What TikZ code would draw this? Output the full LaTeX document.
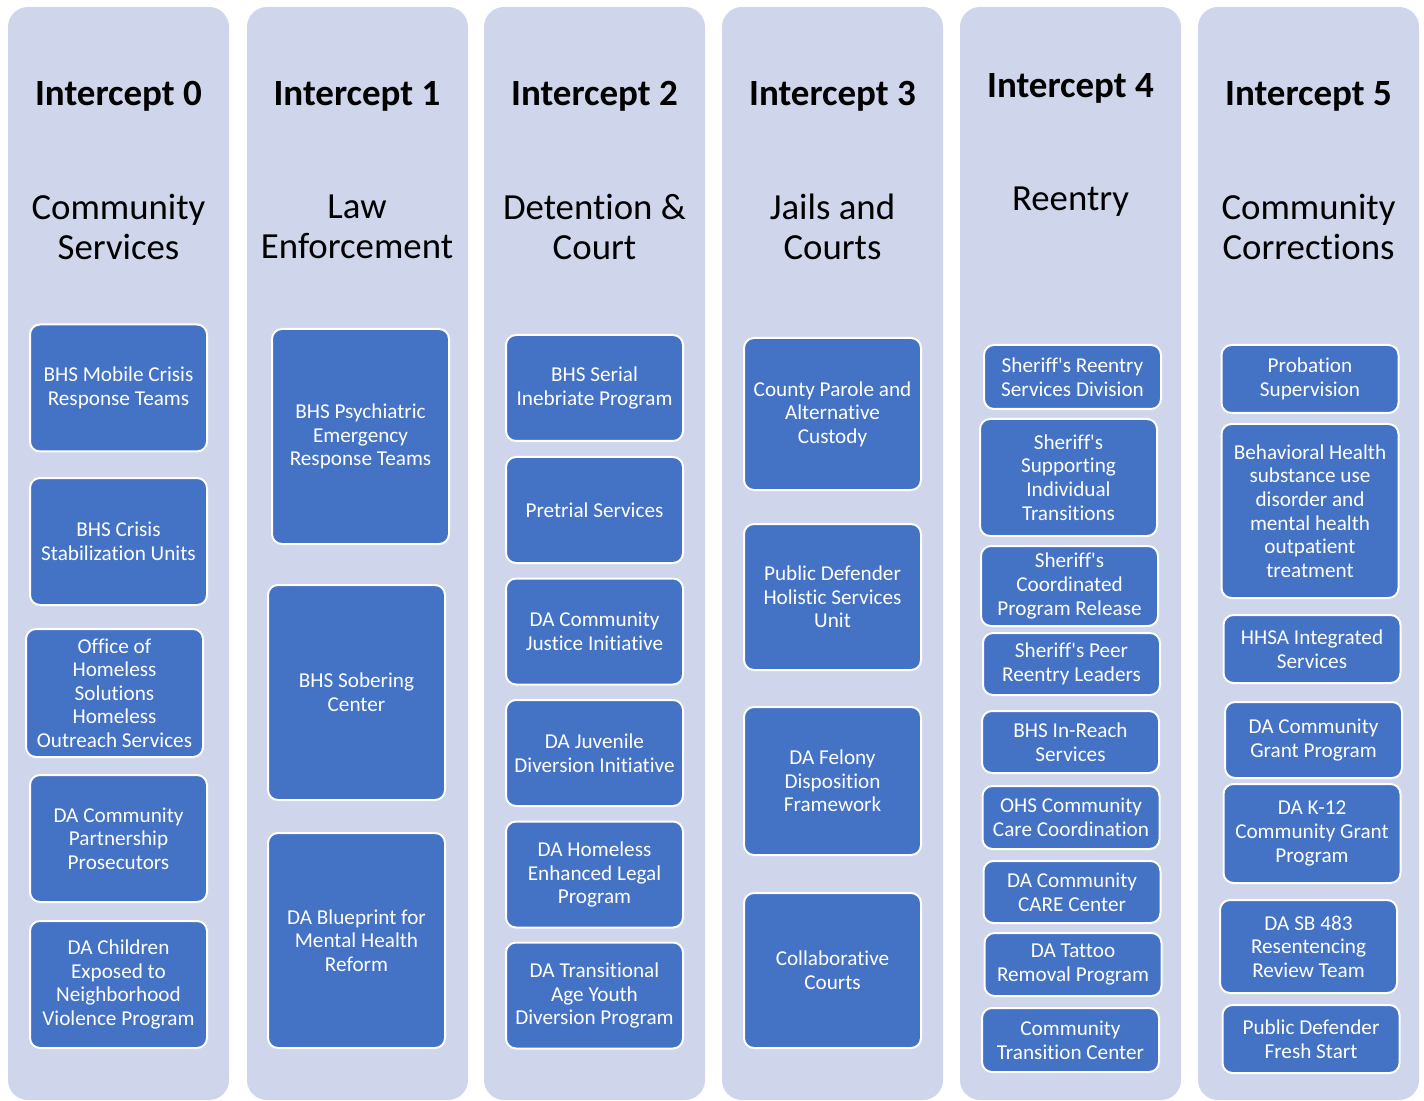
\documentclass[tikz,border=0pt]{standalone}
\usepackage{fontspec}
\setmainfont{Carlito}[Ligatures=NoCommon]
\definecolor{lavender}{HTML}{CFD5EA}
\definecolor{boxblue}{HTML}{4472C4}
\newcommand{\sq}{\textquotesingle}

\begin{document}
\begin{tikzpicture}[
  x=0.5pt, y=-0.5pt,
  column/.style={fill=lavender, rounded corners=10pt},
  title/.style={font=\bfseries\fontsize{18.5}{22}\selectfont},
  phase/.style={align=center, font=\fontsize{18.4}{20}\selectfont},
  prog/.style={rectangle, rounded corners=5pt, draw=white, line width=1pt,
    fill=boxblue, text=white, align=center, inner sep=2pt,
    minimum width=88.5pt, font=\fontsize{10.6}{11.8}\selectfont}
  ]
\useasboundingbox (0,0) rectangle (1424,1101);
\foreach \x in {8,247,484,722,960,1198}
  \fill[column] (\x,7) rectangle +(221,1093);
\foreach \n/\cx/\ty in {0/118.5/96, 1/357/96, 2/594.5/96, 3/832.5/96, 4/1070.5/88, 5/1308.5/96}
  \node[title] (t\n) at (\cx,\ty) {Intercept \n};
\foreach \n/\cx/\sy/\txt in {0/118.5/227/{Community\\Services},
    1/357/227/{Law\\Enforcement},
    2/594.5/227/{Detention \&\\Court},
    3/832.5/227/{Jails and\\Courts},
    4/1070.5/202/{Reentry},
    5/1308.5/227/{Community\\Corrections}}
  \node[phase] (s\n) at (\cx,\sy) {\txt};

\node[prog, minimum height=63.5pt] (mcrisis) at (118.5,388)
  {BHS Mobile Crisis\\Response Teams};
\node[prog, minimum height=63.5pt] (crisisunits) at (118.5,541.5)
  {BHS Crisis\\Stabilization Units};
\node[prog, minimum height=64pt] (homeless) at (114.5,693)
  {Office of\\Homeless\\Solutions\\Homeless\\Outreach Services};
\node[prog, minimum height=63.5pt] (partnership) at (118.5,838.5)
  {DA Community\\Partnership\\Prosecutors};
\node[prog, minimum height=63.5pt] (children) at (118.5,984.5)
  {DA Children\\Exposed to\\Neighborhood\\Violence Program};

\node[prog, minimum height=107.5pt] (pert) at (360.5,436.5)
  {BHS Psychiatric\\Emergency\\Response Teams};
\node[prog, minimum height=107.5pt] (sobering) at (356.5,692.5)
  {BHS Sobering\\Center};
\node[prog, minimum height=107.5pt] (blueprint) at (356.5,940.5)
  {DA Blueprint for\\Mental Health\\Reform};

\node[prog, minimum height=53pt] (inebriate) at (594.5,388)
  {BHS Serial\\Inebriate Program};
\node[prog, minimum height=53pt] (pretrial) at (594.5,510)
  {Pretrial Services};
\node[prog, minimum height=53pt] (justice) at (594.5,631.5)
  {DA Community\\Justice Initiative};
\node[prog, minimum height=53pt] (juvenile) at (594.5,753)
  {DA Juvenile\\Diversion Initiative};
\node[prog, minimum height=53pt] (legal) at (594.5,874.5)
  {DA Homeless\\Enhanced Legal\\Program};
\node[prog, minimum height=53pt] (tay) at (594.5,995.5)
  {DA Transitional\\Age Youth\\Diversion Program};

\node[prog, minimum height=76pt] (parole) at (832.5,414)
  {County Parole and\\Alternative\\Custody};
\node[prog, minimum height=73pt] (holistic) at (832.5,597)
  {Public Defender\\Holistic Services\\Unit};
\node[prog, minimum height=74pt] (felony) at (832.5,781)
  {DA Felony\\Disposition\\Framework};
\node[prog, minimum height=77.5pt] (collab) at (832.5,970.5)
  {Collaborative\\Courts};

\node[prog, minimum height=32pt] (reentry) at (1072.5,377)
  {Sheriff\sq s Reentry\\Services Division};
\node[prog, minimum height=58.5pt] (sit) at (1068.5,477.5)
  {Sheriff\sq s\\Supporting\\Individual\\Transitions};
\node[prog, minimum height=40pt] (release) at (1069.5,586)
  {Sheriff\sq s\\Coordinated\\Program Release};
\node[prog, minimum height=31pt] (peer) at (1071.5,664)
  {Sheriff\sq s Peer\\Reentry Leaders};
\node[prog, minimum height=31pt] (inreach) at (1070.5,742)
  {BHS In-Reach\\Services};
\node[prog, minimum height=31.5pt] (careco) at (1071,817.5)
  {OHS Community\\Care Coordination};
\node[prog, minimum height=31pt] (carecenter) at (1072,892)
  {DA Community\\CARE Center};
\node[prog, minimum height=31.5pt] (tattoo) at (1073,964.5)
  {DA Tattoo\\Removal Program};
\node[prog, minimum height=32pt] (transition) at (1070.5,1040)
  {Community\\Transition Center};

\node[prog, minimum height=34pt] (probation) at (1310,379)
  {Probation\\Supervision};
\node[prog, minimum height=87pt] (bhtreat) at (1310,511)
  {Behavioral Health\\substance use\\disorder and\\mental health\\outpatient\\treatment};
\node[prog, minimum height=34pt] (hhsa) at (1312,649)
  {HHSA Integrated\\Services};
\node[prog, minimum height=38pt] (grant) at (1313.5,740)
  {DA Community\\Grant Program};
\node[prog, minimum height=49.5pt] (k12) at (1312,833.5)
  {DA K-12\\Community Grant\\Program};
\node[prog, minimum height=46.5pt] (resentence) at (1308.5,946.5)
  {DA SB 483\\Resentencing\\Review Team};
\node[prog, minimum height=34pt] (freshstart) at (1311,1039)
  {Public Defender\\Fresh Start};
\end{tikzpicture}
\end{document}
